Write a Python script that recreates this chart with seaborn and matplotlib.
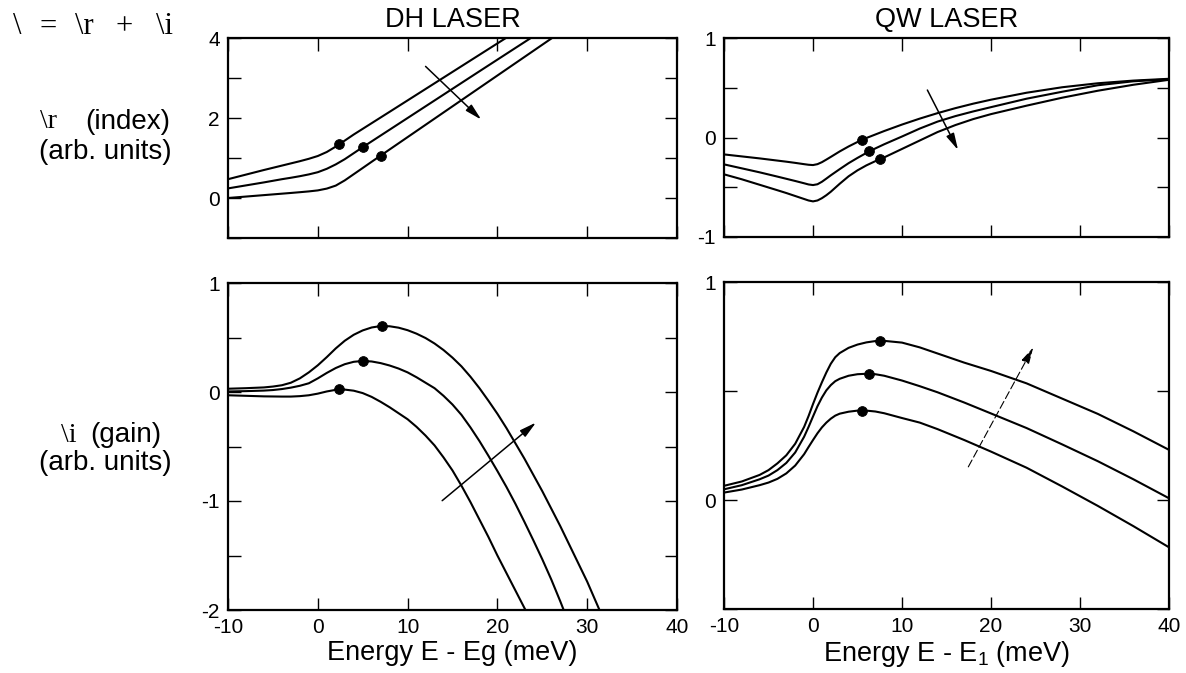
import matplotlib
matplotlib.use("Agg")
import matplotlib.pyplot as plt
import seaborn as sns
import pandas as pd
from matplotlib.ticker import MultipleLocator, FixedLocator

# ---- DH laser, refractive index (top left) ----
dh_index_x = [-10, -6, -4, -3, -2, -1, 0, 1, 2, 3, 4, 5, 6, 8, 10, 14, 18, 22, 26, 30]
dh_index_1 = [0.47, 0.70, 0.81, 0.865, 0.92, 0.98, 1.05, 1.15, 1.285, 1.435, 1.587, 1.729,
              1.871, 2.155, 2.44, 3.01, 3.58, 4.15, 4.72, 5.29]
dh_index_2 = [0.24, 0.39, 0.47, 0.506, 0.545, 0.59, 0.645, 0.73, 0.84, 0.97, 1.12, 1.27,
              1.416, 1.708, 2.0, 2.584, 3.168, 3.75, 4.33, 4.92]
dh_index_3 = [0.0, 0.072, 0.108, 0.126, 0.145, 0.165, 0.19, 0.235, 0.31, 0.44, 0.595, 0.75,
              0.906, 1.214, 1.522, 2.138, 2.754, 3.37, 3.986, 4.6]
dh_index_dot_x = [2.4, 5.0, 7.0]
dh_index_dot_y = [1.36, 1.27, 1.06]

# ---- QW laser, refractive index (top right) ----
qw_index_x = [-10, -8, -6, -4, -3, -2, -1, -0.5, 0, 0.5, 1, 1.5, 2, 3, 4, 5, 6, 7, 8,
              10, 12, 14, 16, 18, 20, 24, 28, 32, 36, 40]
qw_index_1 = [-0.17, -0.19, -0.21, -0.232, -0.243, -0.255, -0.268, -0.274, -0.277, -0.268,
              -0.248, -0.222, -0.195, -0.14, -0.09, -0.045, -0.005, 0.03, 0.065,
              0.13, 0.19, 0.245, 0.295, 0.34, 0.38, 0.45, 0.505, 0.545, 0.572, 0.59]
qw_index_2 = [-0.27, -0.31, -0.35, -0.393, -0.415, -0.437, -0.46, -0.472, -0.478, -0.47,
              -0.445, -0.413, -0.38, -0.318, -0.258, -0.205, -0.155, -0.11, -0.068,
              0.01, 0.09, 0.16, 0.215, 0.262, 0.305, 0.39, 0.46, 0.525, 0.565, 0.585]
qw_index_3 = [-0.37, -0.42, -0.475, -0.53, -0.558, -0.588, -0.618, -0.633, -0.642, -0.633,
              -0.61, -0.58, -0.545, -0.465, -0.39, -0.33, -0.28, -0.238, -0.2,
              -0.115, -0.03, 0.055, 0.125, 0.185, 0.235, 0.32, 0.40, 0.47, 0.53, 0.58]
qw_index_dot_x = [5.5, 6.3, 7.5]
qw_index_dot_y = [-0.025, -0.14, -0.22]

# ---- DH laser, gain (bottom left) ----
dh_gain_x = [-10, -8, -6, -5, -4, -3, -2, -1, 0, 1, 2, 3, 4, 5, 6, 7, 8, 9, 10, 11, 12,
             13, 14, 15, 16, 17, 18, 19, 20, 21, 22, 23, 24, 25, 26, 27, 28, 29, 30, 31, 32]
dh_gain_1 = [0.03, 0.035, 0.042, 0.05, 0.062, 0.085, 0.125, 0.18, 0.245, 0.32, 0.40, 0.47,
             0.525, 0.565, 0.592, 0.605, 0.603, 0.59, 0.567, 0.535, 0.495, 0.445, 0.385,
             0.315, 0.235, 0.14, 0.035, -0.08, -0.20, -0.33, -0.47, -0.61, -0.76, -0.91,
             -1.07, -1.23, -1.40, -1.57, -1.74, -1.93, -2.12]
dh_gain_2 = [0.005, 0.008, 0.013, 0.018, 0.027, 0.04, 0.057, 0.08, 0.125, 0.175, 0.22,
             0.255, 0.277, 0.285, 0.28, 0.265, 0.243, 0.215, 0.18, 0.135, 0.085, 0.035,
             -0.035, -0.115, -0.21, -0.325, -0.45, -0.585, -0.725, -0.87, -1.025, -1.19,
             -1.36, -1.535, -1.72, -1.92, -2.13, -2.35, -2.6, -2.85, -3.1]
dh_gain_3 = [-0.03, -0.035, -0.04, -0.041, -0.042, -0.042, -0.038, -0.03, -0.015, 0.005,
             0.02, 0.022, 0.012, -0.01, -0.045, -0.09, -0.14, -0.195, -0.25, -0.32, -0.40,
             -0.49, -0.60, -0.72, -0.86, -1.01, -1.17, -1.33, -1.50, -1.66, -1.82, -1.98,
             -2.14, -2.3, -2.5, -2.7, -2.9, -3.1, -3.3, -3.5, -3.7]
dh_gain_dot_x = [2.4, 5.0, 7.1]
dh_gain_dot_y = [0.025, 0.285, 0.605]

# ---- QW laser, gain (bottom right) ----
qw_gain_x = [-10, -8, -6, -5, -4, -3, -2, -1, -0.5, 0, 0.5, 1, 1.5, 2, 2.5, 3, 4, 5, 6,
             7, 8, 10, 12, 14, 17, 20, 24, 28, 32, 36, 40]
qw_gain_1 = [0.065, 0.085, 0.115, 0.137, 0.168, 0.205, 0.258, 0.335, 0.385, 0.44, 0.492,
             0.54, 0.585, 0.625, 0.655, 0.674, 0.698, 0.713, 0.723, 0.729, 0.73, 0.722,
             0.70, 0.672, 0.63, 0.592, 0.535, 0.465, 0.395, 0.315, 0.23]
qw_gain_2 = [0.049, 0.068, 0.095, 0.112, 0.137, 0.17, 0.218, 0.29, 0.335, 0.383, 0.43,
             0.47, 0.503, 0.527, 0.545, 0.556, 0.57, 0.577, 0.579, 0.577, 0.57, 0.548,
             0.522, 0.494, 0.447, 0.397, 0.33, 0.255, 0.178, 0.095, 0.008]
qw_gain_3 = [0.034, 0.048, 0.068, 0.08, 0.097, 0.122, 0.158, 0.21, 0.243, 0.275, 0.306,
             0.333, 0.355, 0.373, 0.387, 0.396, 0.405, 0.41, 0.41, 0.406, 0.398, 0.376,
             0.355, 0.325, 0.275, 0.222, 0.148, 0.062, -0.027, -0.12, -0.217]
qw_gain_dot_x = [5.5, 6.26, 7.57]
qw_gain_dot_y = [0.41, 0.579, 0.73]

# arrows (start, end) in data units
dh_index_arrow = [(12.0, 3.29), (18.2, 1.96)]
qw_index_arrow = [(12.85, 0.477), (16.3, -0.126)]
dh_gain_arrow = [(13.85, -0.997), (24.3, -0.28)]
qw_gain_arrow = [(17.45, 0.152), (24.75, 0.70)]

x_ticks = [-10, 0, 10, 20, 30, 40]

sns.set_style("ticks")
plt.rcParams['font.family'] = ['Liberation Sans', 'DejaVu Sans']
plt.rcParams['axes.unicode_minus'] = False
plt.rcParams['text.color'] = 'black'
plt.rcParams['axes.labelcolor'] = 'black'
plt.rcParams['xtick.color'] = 'black'
plt.rcParams['ytick.color'] = 'black'
plt.rcParams['mathtext.fontset'] = 'custom'
plt.rcParams['mathtext.rm'] = 'Liberation Sans'
plt.rcParams['mathtext.it'] = 'Liberation Sans:italic'

W, H = 1186, 673
fig = plt.figure(figsize=(W / 100, H / 100), dpi=100)


def px_rect(x0, y0, x1, y1):
    return [x0 / W, 1 - y1 / H, (x1 - x0) / W, (y1 - y0) / H]


def long_frame(x, curves):
    rows = []
    for k, ys in enumerate(curves):
        for xv, yv in zip(x, ys):
            rows.append({"energy": xv, "value": yv, "curve": k})
    return pd.DataFrame(rows)


def draw_panel(rect, x, curves, dot_x, dot_y, arrow, ylim, major, minor,
               xlabels=False, dashed_arrow=False):
    ax = fig.add_axes(rect)
    df = long_frame(x, curves)
    sns.lineplot(data=df, x="energy", y="value", units="curve", estimator=None,
                 sort=False, color="black", lw=1.5, ax=ax, legend=False)
    sns.scatterplot(x=dot_x, y=dot_y, color="black", s=50, edgecolor="black",
                    ax=ax, zorder=5, legend=False)
    ls = (0, (7, 3)) if dashed_arrow else "-"
    lw = 0.8 if dashed_arrow else 1.1
    ax.annotate("", xy=arrow[1], xytext=arrow[0],
                arrowprops=dict(arrowstyle="-|>,head_length=1.0,head_width=0.25",
                                color="black", lw=lw, linestyle=ls,
                                shrinkA=0, shrinkB=0))
    ax.set_xlim(-10, 40)
    ax.set_ylim(*ylim)
    ax.xaxis.set_major_locator(FixedLocator(x_ticks))
    ax.yaxis.set_major_locator(FixedLocator(major))
    ax.yaxis.set_minor_locator(MultipleLocator(minor))
    ax.tick_params(which="both", direction="in", top=True, right=True,
                   length=9, width=1.0, labelsize=15, pad=6, colors="black")
    ax.tick_params(axis="x", labelbottom=xlabels)
    for s in ax.spines.values():
        s.set_linewidth(1.6)
        s.set_color("black")
    ax.set_xlabel("")
    ax.set_ylabel("")
    return ax


ax_tl = draw_panel(px_rect(228, 38, 677, 238), dh_index_x,
                   [dh_index_1, dh_index_2, dh_index_3],
                   dh_index_dot_x, dh_index_dot_y, dh_index_arrow,
                   (-1, 4), [0, 2, 4], 1)
ax_tr = draw_panel(px_rect(724, 38, 1169, 237), qw_index_x,
                   [qw_index_1, qw_index_2, qw_index_3],
                   qw_index_dot_x, qw_index_dot_y, qw_index_arrow,
                   (-1, 1), [-1, 0, 1], 0.5)
ax_bl = draw_panel(px_rect(228, 283, 677, 610), dh_gain_x,
                   [dh_gain_1, dh_gain_2, dh_gain_3],
                   dh_gain_dot_x, dh_gain_dot_y, dh_gain_arrow,
                   (-2, 1), [-2, -1, 0, 1], 0.5, xlabels=True)
ax_br = draw_panel(px_rect(724, 282, 1169, 609), qw_gain_x,
                   [qw_gain_1, qw_gain_2, qw_gain_3],
                   qw_gain_dot_x, qw_gain_dot_y, qw_gain_arrow,
                   (-0.5, 1), [0, 1], 0.5, xlabels=True, dashed_arrow=True)

ax_tl.set_title("DH LASER", fontsize=19.5, pad=8)
ax_tr.set_title("QW LASER", fontsize=19.5, pad=8)
ax_bl.set_xlabel("Energy E - Eg (meV)", fontsize=19.5, labelpad=2)
ax_br.set_xlabel(r"Energy E - E$_\mathrm{1}$ (meV)", fontsize=19.5, labelpad=2)

# left-hand labels
serif = ['Liberation Serif', 'DejaVu Serif']
eq_parts = ["\\", "=", "\\r", "+", "\\i"]
eq_centers = [17, 48, 84, 124, 165]
for part, cx in zip(eq_parts, eq_centers):
    fig.text(cx / W, 1 - 27 / H, part, family=serif, fontsize=22,
             ha="center", va="center")
fig.text(57 / W, 1 - 122 / H, "\\r", family=serif, fontsize=20, ha="right", va="center")
fig.text(85 / W, 1 - 122 / H, "(index)", fontsize=20, ha="left", va="center")
fig.text(105 / W, 1 - 152 / H, "(arb. units)", fontsize=20, ha="center", va="center")
fig.text(77 / W, 1 - 435 / H, "\\i", family=serif, fontsize=20, ha="right", va="center")
fig.text(90 / W, 1 - 435 / H, "(gain)", fontsize=20, ha="left", va="center")
fig.text(105 / W, 1 - 463 / H, "(arb. units)", fontsize=20, ha="center", va="center")

fig.savefig("out.png", dpi=100)
